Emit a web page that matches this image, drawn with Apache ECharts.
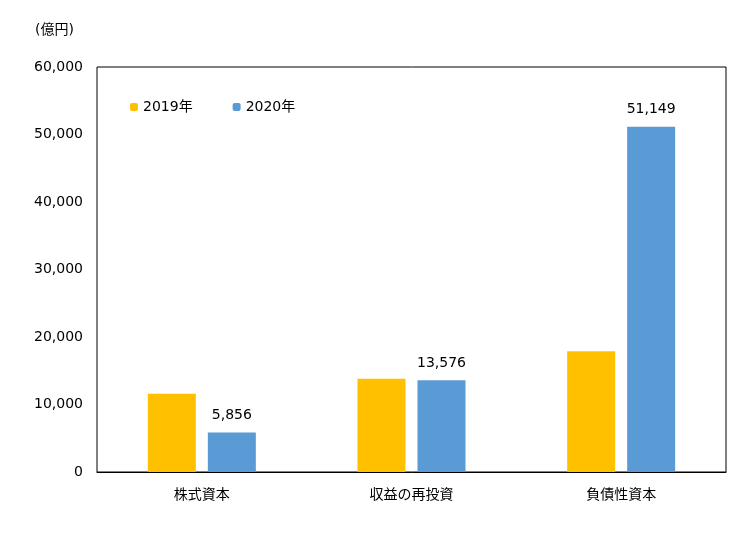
<!DOCTYPE html>
<html><head><meta charset="utf-8">
<script src="https://cdn.jsdelivr.net/npm/echarts@6/dist/echarts.min.js"></script>
</head><body style="margin:0">
<div id="c" style="width:750px;height:560px"></div>
<script>
var categories = ['株式資本', '収益の再投資', '負債性資本'];
var v2019 = [11600, 13800, 17900];
var v2020 = [5856, 13576, 51149];
var yTicks = [0, 10000, 20000, 30000, 40000, 50000, 60000];

var font = 'Verdana, "DejaVu Sans", "Noto Sans CJK JP", sans-serif';
var chart = echarts.init(document.getElementById('c'));
chart.setOption({
  textStyle: { fontFamily: font, color: '#000' },
  title: { text: '(億円)', left: 30, top: 18, textStyle: { fontSize: 14, fontWeight: 'normal', color: '#000', fontFamily: font } },
  legend: {
    data: ['2019年', '2020年'], left: 125, top: 95, itemWidth: 8, itemHeight: 8, itemGap: 40,
    textStyle: { fontSize: 14, color: '#000', fontFamily: font }
  },
  grid: { left: 97, right: 24, top: 67, bottom: 88, show: true, borderColor: '#000', borderWidth: 1 },
  xAxis: {
    type: 'category', data: categories,
    axisLine: { lineStyle: { color: '#000' } }, axisTick: { show: false },
    axisLabel: { fontSize: 14, color: '#000', margin: 16 }
  },
  yAxis: {
    type: 'value', min: yTicks[0], max: yTicks[yTicks.length - 1], interval: 10000,
    splitLine: { show: false }, axisLine: { show: false }, axisTick: { show: false },
    axisLabel: { fontSize: 14, color: '#000', margin: 14,
      formatter: function (v) { return v.toLocaleString('en-US'); } }
  },
  series: [
    { name: '2019年', type: 'bar', data: v2019, barWidth: 48, barGap: '25%', itemStyle: { color: '#FFC000' } },
    { name: '2020年', type: 'bar', data: v2020, barWidth: 48, itemStyle: { color: '#5B9BD5' },
      label: { show: true, position: 'top', distance: 10, fontSize: 14, color: '#000',
        formatter: function (p) { return p.value.toLocaleString('en-US'); } } }
  ]
});
</script>
</body></html>
